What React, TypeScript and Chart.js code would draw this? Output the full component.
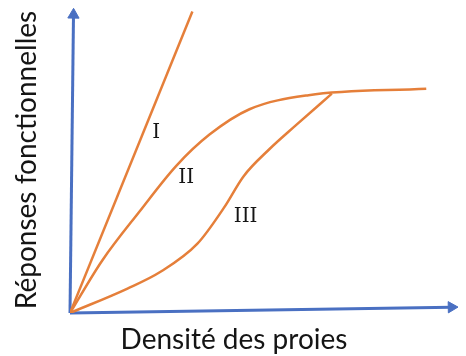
import { useEffect, useRef } from 'react';
import { Chart, registerables } from 'chart.js';

Chart.register(...registerables);

// Type I: linear
const curveIX = [0, 31.5];
const curveIY = [0, 98.7];
// Type II: saturating
const curveIIX = [0, 8.3, 18.0, 27.3, 35.9, 46.2, 61.4, 91.7];
const curveIIY = [0, 17.2, 33.4, 48.1, 58.4, 66.7, 71.3, 73.4];
// Type III: sigmoid
const curveIIIX = [0, 14.8, 23.2, 32.8, 39.6, 44.7, 51.3, 58.1, 67.4];
const curveIIIY = [0, 8.0, 13.4, 22.7, 34.4, 44.8, 53.6, 61.4, 71.8];
// Axis arrows
const xAxisX = [0, 98.2];
const xAxisY = [0, 1.9];
const yAxisX = [0, 0.9];
const yAxisY = [0, 97.6];
// Curve labels
const curveLabels = ['I', 'II', 'III'];
const curveLabelX = [22.2, 29.9, 45.2];
const curveLabelY = [59.7, 45.1, 32.1];
const xTitle = 'Densité des proies';
const yTitle = 'Réponses fonctionnelles';

const ORANGE = '#E57F3A';
const BLUE = '#4A70C2';

const pts = (xs: number[], ys: number[]) => xs.map((x, i) => ({ x, y: ys[i] }));

const textPlugin = {
  id: 'textPlugin',
  afterDatasetsDraw(chart: any) {
    const { ctx } = chart;
    const xs = chart.scales.x;
    const ys = chart.scales.y;
    ctx.save();
    ctx.fillStyle = '#151515';
    ctx.textAlign = 'center';
    ctx.textBaseline = 'alphabetic';
    ctx.font = '20px "DejaVu Serif"';
    curveLabels.forEach((t, i) => {
      ctx.fillText(t, xs.getPixelForValue(curveLabelX[i]), ys.getPixelForValue(curveLabelY[i]) + 7.5);
    });
    ctx.font = '28px Lato';
    ctx.fillText(xTitle, 234, 349);
    ctx.translate(36, 160);
    ctx.rotate(-Math.PI / 2);
    ctx.fillText(yTitle, 0, 0);
    ctx.restore();
  },
};

export default function App() {
  const ref = useRef<HTMLCanvasElement>(null);
  useEffect(() => {
    document.body.style.margin = '0';
    const chart = new Chart(ref.current!, {
      type: 'line',
      data: {
        datasets: [
          { data: pts(curveIX, curveIY), borderColor: ORANGE, borderWidth: 2.5, pointRadius: 0, tension: 0 },
          { data: pts(curveIIX, curveIIY), borderColor: ORANGE, borderWidth: 2.5, pointRadius: 0, cubicInterpolationMode: 'monotone' },
          { data: pts(curveIIIX, curveIIIY), borderColor: ORANGE, borderWidth: 2.5, pointRadius: 0, cubicInterpolationMode: 'monotone' },
          {
            data: pts(xAxisX, xAxisY), borderColor: BLUE, borderWidth: 3, clip: false,
            pointStyle: 'triangle', pointRadius: [0, 6.5], pointRotation: [0, 89],
            pointBackgroundColor: BLUE, pointBorderColor: BLUE, pointBorderWidth: 1,
          },
          {
            data: pts(yAxisX, yAxisY), borderColor: BLUE, borderWidth: 3, clip: false,
            pointStyle: 'triangle', pointRadius: [0, 6.5], pointRotation: [0, 0.7],
            pointBackgroundColor: BLUE, pointBorderColor: BLUE, pointBorderWidth: 1,
          },
        ] as any,
      },
      options: {
        responsive: false,
        animation: false,
        layout: { padding: { left: 70, right: 0, top: 5, bottom: 43 } },
        plugins: { legend: { display: false }, tooltip: { enabled: false } },
        scales: {
          x: { type: 'linear', min: 0, max: 100, display: false },
          y: { type: 'linear', min: 0, max: 100, display: false },
        },
      },
      plugins: [textPlugin],
    });
    return () => chart.destroy();
  }, []);
  return (
    <div style={{ width: 466, height: 356 }}>
      <canvas ref={ref} width={466} height={356} />
    </div>
  );
}
